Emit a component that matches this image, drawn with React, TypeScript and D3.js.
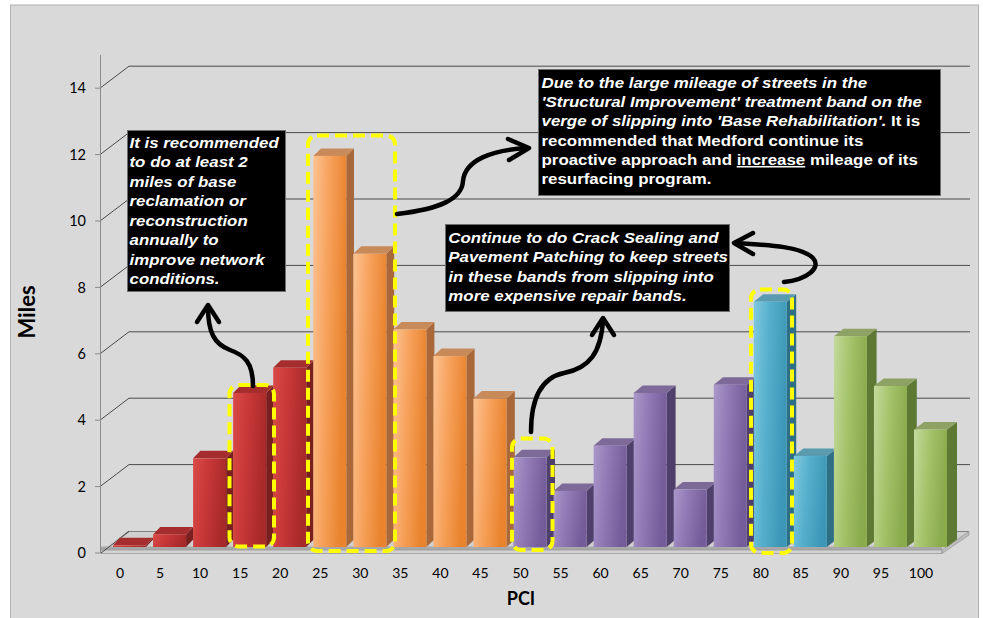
import React from "react";
import * as d3 from "d3";

// ---- data ----
const pciLabels = [0, 5, 10, 15, 20, 25, 30, 35, 40, 45, 50, 55, 60, 65, 70, 75, 80, 85, 90, 95, 100];
const milesValues = [0.05, 0.38, 2.67, 4.64, 5.4, 11.78, 8.83, 6.55, 5.75, 4.47, 2.7, 1.69, 3.05, 4.64, 1.73, 4.89, 7.39, 2.74, 6.35, 4.85, 3.54];
const bandGroup = [0, 0, 0, 0, 0, 1, 1, 1, 1, 1, 2, 2, 2, 2, 2, 2, 3, 3, 4, 4, 4];
const yTicks = [0, 2, 4, 6, 8, 10, 12, 14];

const frontLight = ["#d94a46", "#fcc393", "#ab98ca", "#80c9de", "#c4da9d"];
const frontMid = ["#c93838", "#f7a35e", "#9179b5", "#56b0cd", "#a6c46c"];
const frontDark = ["#a82929", "#e9832e", "#735c99", "#3c97b6", "#8aab4c"];
const sideColor = ["#7a1f1f", "#a8683a", "#4f3f6b", "#2f6f85", "#5e7934"];
const topColor = ["#a52d2d", "#c98a5a", "#7d6a99", "#5a9bb0", "#8ea265"];

const boxLeftLines = [
  "It is recommended",
  "to do at least 2",
  "miles of base",
  "reclamation or",
  "reconstruction",
  "annually to",
  "improve network",
  "conditions.",
];
const boxMidLines = [
  "Continue to do Crack Sealing and",
  "Pavement Patching to keep streets",
  "in these bands from slipping into",
  "more expensive repair bands.",
];

// ---- geometry ----
const x = d3.scaleLinear().domain([0, 100]).range([120, 921]);
const unit = 33.2;
const yFront = d3.scaleLinear().domain([0, 14]).range([553, 553 - 14 * unit]);
const yBack = d3.scaleLinear().domain([0, 14]).range([531, 531 - 14 * unit]);
const yBar = d3.scaleLinear().domain([0, 14]).range([547, 547 - 14 * unit]);
const depthX = d3.scaleLinear().domain([0, 100]).range([7, 10]);
const barW = 33;
const depthY = 7.5;

const FONT_BOX = "'Liberation Sans', Arial, sans-serif";
const FONT_AXIS = "Lato, 'Open Sans', sans-serif";
const boxFs = 15.5;
const boxSx = 1.09;

function Arrow({ d, head }: { d: string; head: [number, number][] }) {
  return (
    <g fill="none" stroke="#000" strokeWidth={4.5} strokeLinecap="round" strokeLinejoin="round">
      <path d={d} />
      <polyline points={head.map((p) => p.join(",")).join(" ")} />
    </g>
  );
}

function YellowBox({ x0, y0, x1, y1 }: { x0: number; y0: number; x1: number; y1: number }) {
  return (
    <rect
      x={x0}
      y={y0}
      width={x1 - x0}
      height={y1 - y0}
      rx={9}
      ry={9}
      fill="none"
      stroke="#ffff00"
      strokeWidth={4}
      strokeDasharray="12 6"
    />
  );
}

export default function App() {
  const line = d3.line<[number, number]>();
  return (
    <div style={{ position: "absolute", left: 0, top: 0 }}>
      <svg width={983} height={618} style={{ display: "block" }}>
        <defs>
          {frontLight.map((c, g) => (
            <linearGradient key={g} id={`fg${g}`} x1="0" y1="0" x2="1" y2="0.25">
              <stop offset="0" stopColor={c} />
              <stop offset="0.45" stopColor={frontMid[g]} />
              <stop offset="1" stopColor={frontDark[g]} />
            </linearGradient>
          ))}
        </defs>
        <rect x={0} y={0} width={983} height={618} fill="#ffffff" />
        <rect x={10.5} y={5} width={968} height={620} fill="#d9d9d9" stroke="#b0b0b0" strokeWidth={1} />

        {/* back wall gridlines */}
        {yTicks.map((t) => (
          <g key={t} stroke="#4a4a4a" strokeWidth={1} fill="none">
            {t > 0 && <line x1={129} x2={970} y1={yBack(t)} y2={yBack(t)} />}
            <line x1={100} y1={yFront(t)} x2={129} y2={yBack(t)} />
          </g>
        ))}

        {/* floor */}
        <polygon points="101,550 942,550 969,531.5 129,531.5" fill="#d0d0d0" />
        <line x1={129} x2={969} y1={531.5} y2={531.5} stroke="#808080" strokeWidth={1} />
        <rect x={101} y={546.5} width={841} height={3.5} fill="#a8a8a8" />
        <rect x={101} y={550} width={841} height={3.5} fill="#d2d2d2" stroke="#9a9a9a" strokeWidth={0.8} />
        <polygon points="942,550 969,531.5 969,535 942,553.5" fill="#bdbdbd" stroke="#9a9a9a" strokeWidth={0.8} />
        <line x1={101} y1={553} x2={129} y2={531.5} stroke="#4a4a4a" strokeWidth={1} />

        {/* y axis */}
        <line x1={100.5} x2={100.5} y1={55} y2={553} stroke="#8c8c8c" strokeWidth={1} />
        {yTicks.map((t) => (
          <g key={t}>
            <line x1={95} x2={100} y1={yFront(t)} y2={yFront(t)} stroke="#8c8c8c" />
            <text
              x={86}
              y={yFront(t)}
              dy="0.36em"
              textAnchor="end"
              fontFamily={FONT_AXIS}
              fontSize={14.5}
              fill="#000"
            >
              {t}
            </text>
          </g>
        ))}

        {/* bars */}
        {pciLabels.map((p, i) => {
          const v = milesValues[i];
          const g = bandGroup[i];
          const x0 = x(p) - 7;
          const top = yBar(v);
          const bottom = yBar(0);
          const dx = depthX(p);
          const side: [number, number][] = [
            [x0 + barW, top],
            [x0 + barW + dx, top - depthY],
            [x0 + barW + dx, bottom - depthY],
            [x0 + barW, bottom],
          ];
          const topFace: [number, number][] = [
            [x0, top],
            [x0 + dx, top - depthY],
            [x0 + barW + dx, top - depthY],
            [x0 + barW, top],
          ];
          return (
            <g key={p}>
              <path d={line(side) + "Z"} fill={sideColor[g]} />
              <path d={line(topFace) + "Z"} fill={topColor[g]} />
              <rect x={x0} y={top} width={barW} height={bottom - top} fill={`url(#fg${g})`} />
            </g>
          );
        })}

        {/* x labels */}
        {pciLabels.map((p) => (
          <text key={p} x={x(p)} y={578} textAnchor="middle" fontFamily={FONT_AXIS} fontSize={14} fill="#000">
            {p}
          </text>
        ))}

        {/* axis titles */}
        <text
          transform="translate(35,312) rotate(-90)"
          textAnchor="middle"
          fontFamily={FONT_AXIS}
          fontWeight="bold"
          fontSize={22}
          fill="#000"
        >
          Miles
        </text>
        <text x={521} y={605} textAnchor="middle" fontFamily={FONT_AXIS} fontWeight="bold" fontSize={18} fill="#000">
          PCI
        </text>

        {/* yellow highlight boxes */}
        <YellowBox x0={229.5} y0={385} x1={274} y1={546.5} />
        <YellowBox x0={308} y0={135.5} x1={395} y1={551} />
        <YellowBox x0={512} y0={438.5} x1={552.5} y1={550} />
        <YellowBox x0={751} y0={289.5} x1={792} y1={553} />

        {/* arrows */}
        <Arrow
          d="M253,386 C253,362 244,355 230,350 C214,344 208,332 208,307"
          head={[[197, 322], [208, 305], [219, 322]]}
        />
        <Arrow
          d="M397,214 C440,209 462,199 463,181 C465,160 492,150 527,148"
          head={[[508, 139], [529, 148], [509, 160]]}
        />
        <Arrow
          d="M531,432 C531,400 540,378 564,373 C590,368 601,352 603,320"
          head={[[592, 335], [603, 318], [614, 335]]}
        />
        <Arrow
          d="M784,282 C806,280 822,268 813,258 C802,247 772,245 735,243"
          head={[[753, 233], [734, 243], [753, 254]]}
        />

        {/* annotation boxes */}
        <rect x={127.5} y={130.5} width={158} height={161} fill="#000" stroke="#6e6e6e" strokeWidth={1} />
        <g transform={`translate(129.5,0) scale(${boxSx},1)`}>
          {boxLeftLines.map((s, i) => (
            <text
              key={i}
              x={0}
              y={147.7 + i * 19.5}
              fontFamily={FONT_BOX}
              fontWeight="bold"
              fontStyle="italic"
              fontSize={boxFs}
              fill="#fff"
            >
              {s}
            </text>
          ))}
        </g>

        <rect x={538.5} y={69.5} width={402} height={126} fill="#000" stroke="#6e6e6e" strokeWidth={1} />
        <g
          transform={`translate(541.5,0) scale(${boxSx},1)`}
          fontFamily={FONT_BOX}
          fontWeight="bold"
          fontSize={boxFs}
          fill="#fff"
        >
          <text x={0} y={87.7} fontStyle="italic">
            Due to the large mileage of streets in the
          </text>
          <text x={0} y={107} fontStyle="italic">
            'Structural Improvement' treatment band on the
          </text>
          <text x={0} y={126.4}>
            <tspan fontStyle="italic">verge of slipping into 'Base Rehabilitation'.</tspan>
            <tspan> It is</tspan>
          </text>
          <text x={0} y={145.7}>
            recommended that Medford continue its
          </text>
          <text x={0} y={165}>
            proactive approach and <tspan textDecoration="underline">increase</tspan> mileage of its
          </text>
          <text x={0} y={184.3}>
            resurfacing program.
          </text>
        </g>

        <rect x={445.5} y={224.5} width={284} height={87} fill="#000" stroke="#6e6e6e" strokeWidth={1} />
        <g transform={`translate(448.3,0) scale(${boxSx},1)`}>
          {boxMidLines.map((s, i) => (
            <text
              key={i}
              x={0}
              y={242.7 + i * 19.5}
              fontFamily={FONT_BOX}
              fontWeight="bold"
              fontStyle="italic"
              fontSize={boxFs}
              fill="#fff"
            >
              {s}
            </text>
          ))}
        </g>
      </svg>
    </div>
  );
}
